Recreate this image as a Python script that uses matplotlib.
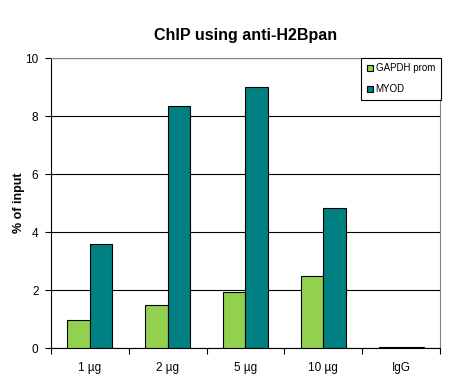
import matplotlib
matplotlib.use('Agg')
import matplotlib.pyplot as plt
import numpy as np

plt.rcParams['font.family'] = ['Liberation Sans', 'DejaVu Sans']

categories = ['1 µg', '2 µg', '5 µg', '10 µg', 'IgG']
gapdh = [0.97, 1.50, 1.95, 2.47, 0.04]
myod = [3.59, 8.34, 9.00, 4.83, 0.04]

fig = plt.figure(figsize=(4.55, 3.8), dpi=100)
ax = fig.add_axes([0.112, 0.084, 0.855, 0.763])

x = np.arange(len(categories))
w = 0.29
ax.bar(x - w / 2, gapdh, w, color='#92D050', edgecolor='black', linewidth=0.8,
       label='GAPDH prom', zorder=3)
ax.bar(x + w / 2, myod, w, color='#008080', edgecolor='black', linewidth=0.8,
       label='MYOD', zorder=3)

ax.set_xlim(-0.5, len(categories) - 0.5)
ax.set_ylim(0, 10)
ax.set_yticks([0, 2, 4, 6, 8, 10])
ax.yaxis.grid(True, color='black', linewidth=0.8, zorder=0)

ax.set_xticks(np.arange(-0.5, len(categories), 1.0))
ax.set_xticklabels([])
ax.set_xticks(x, minor=True)
ax.set_xticklabels(categories, minor=True)
ax.tick_params(axis='x', which='minor', length=0, pad=10, labelsize=8.5)
ax.tick_params(axis='x', which='major', length=4, direction='out', width=0.8)
ax.tick_params(axis='y', length=4, direction='out', width=0.8, labelsize=8.5, pad=5)

for s in ['top', 'right']:
    ax.spines[s].set_color('#808080')
for s in ['left', 'bottom']:
    ax.spines[s].set_color('black')

ax.set_ylabel('% of input', fontsize=9, fontweight='bold', labelpad=0)
ax.set_title('ChIP using anti-H2Bpan', fontsize=11.5, fontweight='bold', pad=13)

leg = ax.legend(loc='upper right', bbox_to_anchor=(1.002, 1.002), fontsize=7,
                frameon=True, fancybox=False, edgecolor='black', framealpha=1,
                handlelength=0.6, handleheight=0.6, handletextpad=0.3,
                labelspacing=1.1, borderpad=0.6, borderaxespad=0)
leg.get_frame().set_linewidth(0.8)

plt.savefig('out.png', dpi=100, facecolor='white')
